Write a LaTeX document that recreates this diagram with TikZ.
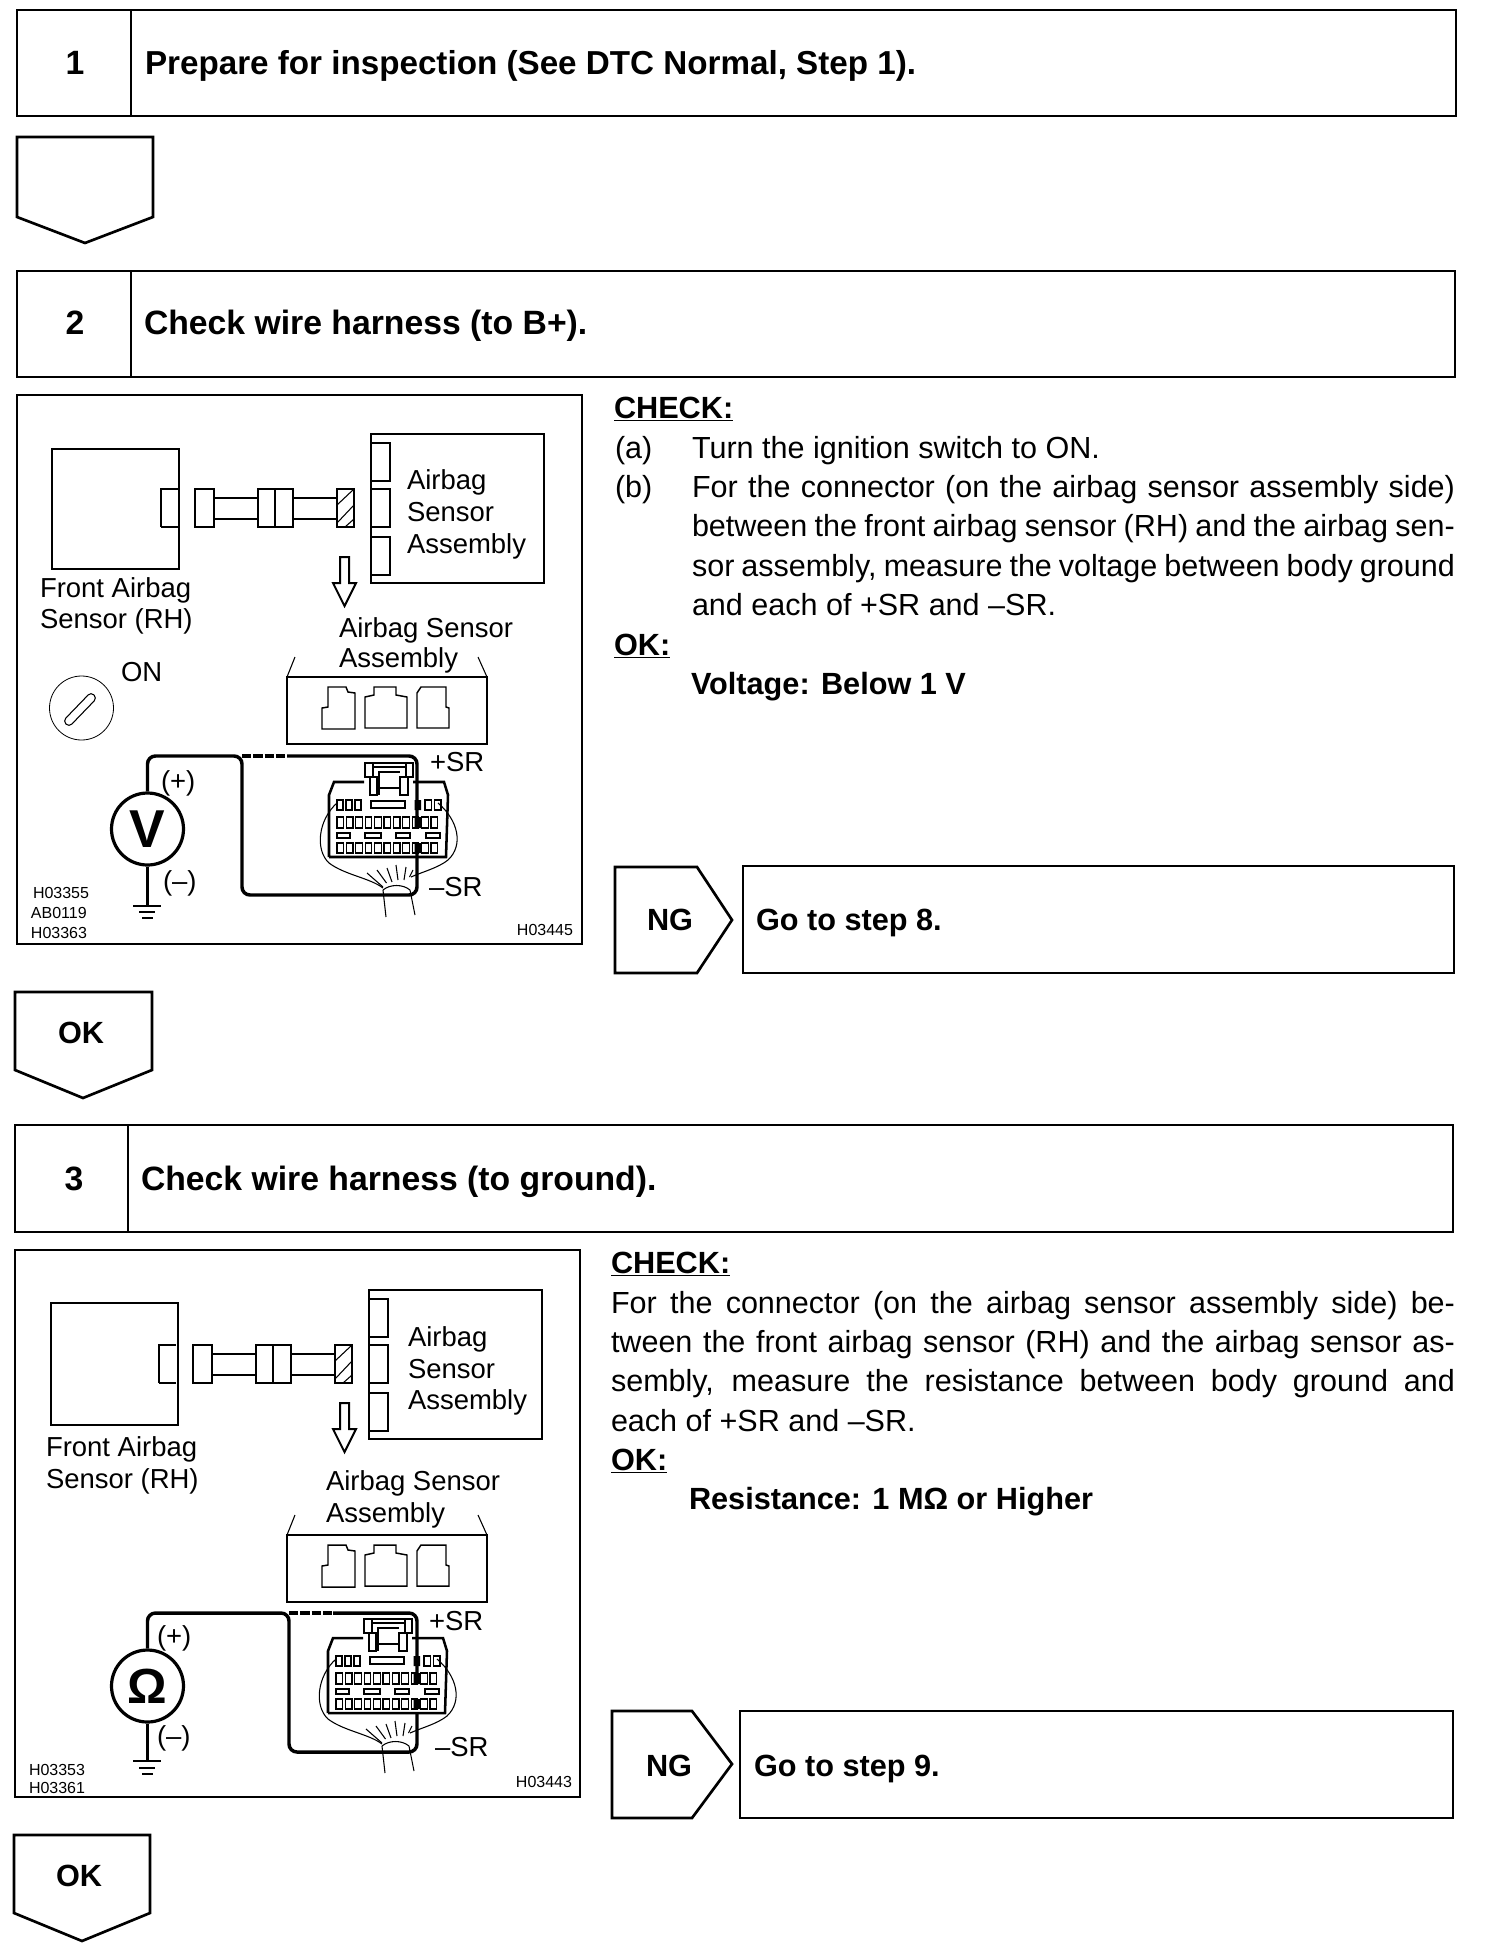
\documentclass[tikz,border=0pt]{standalone}
\usepackage{fontspec}
\setmainfont{Liberation Sans}
\newcommand{\fsbody}{\fontsize{22.9}{27}\selectfont}
\newcommand{\fshead}{\fontsize{25.3}{30}\selectfont\bfseries}
\newcommand{\fsfirst}{\fontsize{24.9}{30}\selectfont\bfseries}
\newcommand{\fsbold}{\fontsize{23}{27}\selectfont\bfseries}
\newcommand{\fslabel}{\fontsize{20.6}{25}\selectfont}
\newcommand{\fsid}{\fontsize{12}{14}\selectfont}
\newcommand{\jline}[2]{\makebox[\dimexpr #1pt*3/4\relax][s]{#2}}
\tikzset{
  x=0.75pt,y=-0.75pt,
  frame/.style={draw=black,line width=2pt,line join=miter},
  divider/.style={draw=black,line width=1.5pt},
  thin part/.style={draw=black,line width=1.5pt},
  hair/.style={draw=black,line width=0.8pt},
  wire/.style={draw=black,line width=2.6pt,rounded corners=6pt},
  dashwire/.style={draw=black,line width=2.4pt,dash pattern=on 7pt off 1.5pt},
  txt/.style={inner sep=0pt,outer sep=0pt,anchor=base west,font=\fsbody},
  hd/.style={txt,font=\fshead},
  bd/.style={txt,font=\fsbold},
  lab/.style={txt,font=\fslabel},
  idt/.style={txt,font=\fsid},
  ctr/.style={inner sep=0pt,outer sep=0pt,anchor=base,font=\fshead},
  meter/.style={circle,draw=black,line width=2.4pt,minimum size=54pt,inner sep=0pt,font=\fontsize{40}{40}\selectfont\bfseries},
}
% harness and sensor assembly sketch, in the coordinates of the first diagram
\newcommand{\harness}{%
  \draw[thin part] (161,527) -- (161,489) -- (178,489);
  \draw[thin part] (161,527) -- (178,527);
  \draw[thin part] (195,489) rectangle (214,527);
  \draw[thin part] (214,498) -- (258,498) (214,519) -- (258,519);
  \draw[thin part] (258,489) rectangle (293,527);
  \draw[thin part] (275,489) -- (275,527);
  \draw[thin part] (293,498) -- (337,498) (293,519) -- (337,519);
  \draw[thin part] (337,489) rectangle (354,527);
  \draw[hair] (337,505) -- (354,489) (337,523) -- (354,505) (345,527) -- (354,519);
  \draw[thin part] (371,434) rectangle (544,583);
  \draw[thin part] (371,443) -- (390,443) -- (390,481) -- (371,481);
  \draw[thin part] (371,489) -- (390,489) -- (390,527) -- (371,527);
  \draw[thin part] (371,537) -- (390,537) -- (390,575) -- (371,575);
}
\newcommand{\hollowarrow}{%
  \draw[line width=1.5pt] (340,557) -- (349,557) -- (349,583) -- (356,583) -- (344.5,606) -- (333,583) -- (340,583) -- cycle;
}
\newcommand{\sockets}{%
  \draw[thin part] (287,677) rectangle (487,744);
  \draw[hair] (287,677) -- (295,657) (487,677) -- (478,657);
  \draw[thin part,line width=1.1pt] (328,687) -- (328,707) -- (322,708) -- (322,729) -- (355,729) -- (355,693) -- (348,692) -- (346,687) -- cycle;
  \draw[thin part,line width=1.1pt] (374,687) -- (396,687) -- (396,695) -- (407,697) -- (407,728) -- (365,728) -- (365,697) -- (374,695) -- cycle;
  \draw[thin part,line width=1.1pt] (421,687) -- (446,687) -- (446,707) -- (449,708) -- (449,728) -- (417,728) -- (417,693) -- cycle;
}
\newcommand{\plug}{%
  \draw[line width=1.9pt] (329,857) -- (329,795) -- (334,782) -- (364,782) (413,782) -- (444,782) -- (448,795) -- (446,857) -- (329,857);
  \draw[line width=1.2pt] (365,763) rectangle (373,777) (370,777) rectangle (377,795) (406,763) rectangle (413,777) (400,777) rectangle (408,795);
  \draw[line width=1.2pt] (373,763) rectangle (406,767);
  \draw[line width=1pt] (379,795) -- (379,772) -- (400,772) (379,788) -- (400,788);
  \foreach \i in {0,1,2} {\draw[line width=0.9pt] ({337+9*\i},800) rectangle ++(6,10);}
  \draw[line width=0.9pt] (371,801) rectangle (405,808);
  \foreach \i in {0,1} {\draw[line width=0.9pt] ({425+9.5*\i},800) rectangle ++(6.5,10);}
  \foreach \i in {0,...,10} {
    \draw[line width=0.9pt] ({337+9.4*\i},817) rectangle ++(6.5,11);
    \draw[line width=0.9pt] ({337+9.4*\i},843) rectangle ++(6.5,10);
  }
  \foreach \a/\b in {337/350,365/381,396/410,426/440} {\draw[line width=0.9pt] (\a,833) rectangle (\b,838);}
  \fill (414.5,800) rectangle (421,810) (414.5,817) rectangle (421,828) (414.5,843) rectangle (421,853);
  \draw[hair] (337,803) .. controls (318,820) and (315,850) .. (329,863) .. controls (345,875) and (370,878) .. (383,888);
  \draw[hair] (438,803) .. controls (458,820) and (464,845) .. (448,860) .. controls (438,868) and (422,872) .. (411,877);
  \draw[hair] (383,890) .. controls (390,884) and (403,884) .. (410,890);
  \draw[hair] (383,890) -- (386,917) (410,890) -- (415,915);
  \draw[hair] (383,887) -- (367,873) (386.5,883) -- (377,870) (392,882) -- (387,868) (398,880) -- (396,865) (404,880) -- (406,867) (409.5,877) -- (413,870);
}
\begin{document}
\begin{tikzpicture}
\useasboundingbox (0,0) rectangle (1504,1956);
% ---------- step 1
\draw[frame] (17,10) rectangle (1456,116);
\draw[divider] (131,10) -- (131,116);
\node[ctr] (n1) at (75,74) {1};
\node[hd,font=\fsfirst] (t1) at (145,74) {Prepare for inspection (See DTC Normal, Step 1).};
\draw[frame] (17,137) -- (153,137) -- (153,217) -- (85,243) -- (17,217) -- cycle;
% ---------- step 2
\draw[frame] (17,271) rectangle (1455,377);
\draw[divider] (131,271) -- (131,377);
\node[ctr] (n2) at (75,334) {2};
\node[hd] (t2) at (144,334) {Check wire harness (to B+).};
\draw[frame] (17,395) rectangle (582,944);
\draw[thin part] (52,449) rectangle (179,569);
\harness
\hollowarrow
\node[lab] (a1) at (407,489) {Airbag};
\node[lab] (a2) at (407,521) {Sensor};
\node[lab] (a3) at (407,553) {Assembly};
\node[lab] (f1) at (40,597) {Front Airbag};
\node[lab] (f2) at (40,628) {Sensor (RH)};
\node[lab] (s1) at (339,637) {Airbag Sensor};
\node[lab] (s2) at (339,667) {Assembly};
\node[lab] (on) at (121,681) {ON};
\draw[line width=0.6pt] (81.5,708) circle[radius=24pt];
\draw[line width=0.8pt,rounded corners=3pt] (63,721) -- (91,692) -- (97,698) -- (69,727) -- cycle;
\sockets
\plug
\node[meter] (vm) at (147.5,829) {V};
\coordinate (wa) at (242,756);
\coordinate (wb) at (242,895);
\coordinate (wc) at (417,895);
\coordinate (wd) at (417,847);
\coordinate (we) at (287,756);
\coordinate (wf) at (417,756);
\coordinate (wg) at (417,823);
\coordinate (gnd) at (147.5,906);
\draw[wire] (vm.north) |- (wa) -- (wb) -- (wc) -- (wd);
\draw[dashwire] (wa) -- (we);
\draw[wire] (we) -- (wf) -- (wg);
\draw[line width=2.4pt] (vm.south) -- (gnd);
\draw[line width=2pt] (133,906) -- (161,906);
\draw[line width=1.2pt] (139,912) -- (155,912) (142,918) -- (153,918);
\node[lab] (pl) at (161,790) {(+)};
\node[lab] (mi) at (163,890) {(–)};
\node[lab] (sp) at (430,771) {+SR};
\node[lab] (sm) at (429,896) {–SR};
\node[idt] (i1) at (33,898) {H03355};
\node[idt] (i2) at (31,918) {AB0119};
\node[idt] (i3) at (31,938) {H03363};
\node[idt,anchor=base east] (i4) at (573,935) {H03445};
% right column, step 2
\node[bd] (c1) at (614,418) {\underline{CHECK:}};
\node[txt] (l1a) at (615,458) {(a)};
\node[txt] (l1) at (692,458) {Turn the ignition switch to ON.};
\node[txt] (l2a) at (615,497) {(b)};
\node[txt] (l2) at (692,497) {\jline{763}{For the connector (on the airbag sensor assembly side)}};
\node[txt] (l3) at (692,536) {\jline{763}{between the front airbag sensor (RH) and the airbag sen-}};
\node[txt] (l4) at (692,576) {\jline{763}{sor assembly, measure the voltage between body ground}};
\node[txt] (l5) at (692,615) {and each of +SR and –SR.};
\node[bd] (o1) at (614,655) {\underline{OK:}};
\node[bd] (v1) at (691,694) {Voltage: Below 1 V};
\draw[frame] (615,867) -- (697,867) -- (732,920) -- (697,973) -- (615,973) -- cycle;
\draw[frame] (743,866) rectangle (1454,973);
\node[ctr,font=\fsbold] (ng1) at (670,930) {NG};
\node[hd,font=\fsbold] (g1) at (756,930) {Go to step 8.};
\draw[frame] (15,992) -- (152,992) -- (152,1070) -- (83,1098) -- (15,1070) -- cycle;
\node[ctr,font=\fsbold] (ok1) at (81,1043) {OK};
% ---------- step 3
\draw[frame] (15,1125) rectangle (1453,1232);
\draw[divider] (128,1125) -- (128,1232);
\node[ctr] (n3) at (74,1190) {3};
\node[hd] (t3) at (141,1190) {Check wire harness (to ground).};
\draw[frame] (15,1250) rectangle (580,1797);
\draw[thin part] (51,1303) rectangle (178,1425);
\begin{scope}[shift={(-2,856)}]
\harness
\end{scope}
\begin{scope}[shift={(0,846)}]
\hollowarrow
\end{scope}
\node[lab] (b1) at (408,1346) {Airbag};
\node[lab] (b2) at (408,1378) {Sensor};
\node[lab] (b3) at (408,1409) {Assembly};
\node[lab] (e1) at (46,1456) {Front Airbag};
\node[lab] (e2) at (46,1488) {Sensor (RH)};
\node[lab] (u1) at (326,1490) {Airbag Sensor};
\node[lab] (u2) at (326,1522) {Assembly};
\begin{scope}[shift={(0,858)}]
\sockets
\end{scope}
\begin{scope}[shift={(-1,856)}]
\plug
\end{scope}
\node[meter,font=\fontsize{37}{37}\selectfont\bfseries] (om) at (147.5,1686) {Ω};
\coordinate (xa) at (289,1613);
\coordinate (xb) at (289,1752);
\coordinate (xc) at (417,1752);
\coordinate (xd) at (417,1713);
\coordinate (xe) at (333,1613);
\coordinate (xf) at (417,1613);
\coordinate (xg) at (417,1683);
\coordinate (xgnd) at (147.5,1761);
\draw[wire] (om.north) |- (xa) -- (xb) -- (xc) -- (xd);
\draw[dashwire] (xa) -- (xe);
\draw[wire] (xe) -- (xf) -- (xg);
\draw[line width=2.4pt] (om.south) -- (xgnd);
\draw[line width=2pt] (133,1761) -- (161,1761);
\draw[line width=1.2pt] (139,1768) -- (155,1768) (142,1774) -- (153,1774);
\node[lab] (ql) at (157,1645) {(+)};
\node[lab] (qm) at (157,1745) {(–)};
\node[lab] (qp) at (429,1630) {+SR};
\node[lab] (qn) at (435,1756) {–SR};
\node[idt] (j1) at (29,1775) {H03353};
\node[idt] (j2) at (29,1793) {H03361};
\node[idt,anchor=base east] (j3) at (572,1787) {H03443};
% right column, step 3
\node[bd] (c2) at (611,1273) {\underline{CHECK:}};
\node[txt] (m1) at (611,1313) {\jline{844}{For the connector (on the airbag sensor assembly side) be-}};
\node[txt] (m2) at (611,1352) {\jline{844}{tween the front airbag sensor (RH) and the airbag sensor as-}};
\node[txt] (m3) at (611,1391) {\jline{844}{sembly, measure the resistance between body ground and}};
\node[txt] (m4) at (611,1431) {each of +SR and –SR.};
\node[bd] (o2) at (611,1470) {\underline{OK:}};
\node[bd] (v2) at (689,1509) {Resistance: 1 MΩ or Higher};
\draw[frame] (612,1711) -- (692,1711) -- (732,1764) -- (692,1818) -- (612,1818) -- cycle;
\draw[frame] (740,1711) rectangle (1453,1818);
\node[ctr,font=\fsbold] (ng2) at (669,1776) {NG};
\node[hd,font=\fsbold] (g2) at (754,1776) {Go to step 9.};
\draw[frame] (14,1835) -- (150,1835) -- (150,1913) -- (82,1941) -- (14,1913) -- cycle;
\node[ctr,font=\fsbold] (ok2) at (79,1886) {OK};
\end{tikzpicture}
\end{document}
